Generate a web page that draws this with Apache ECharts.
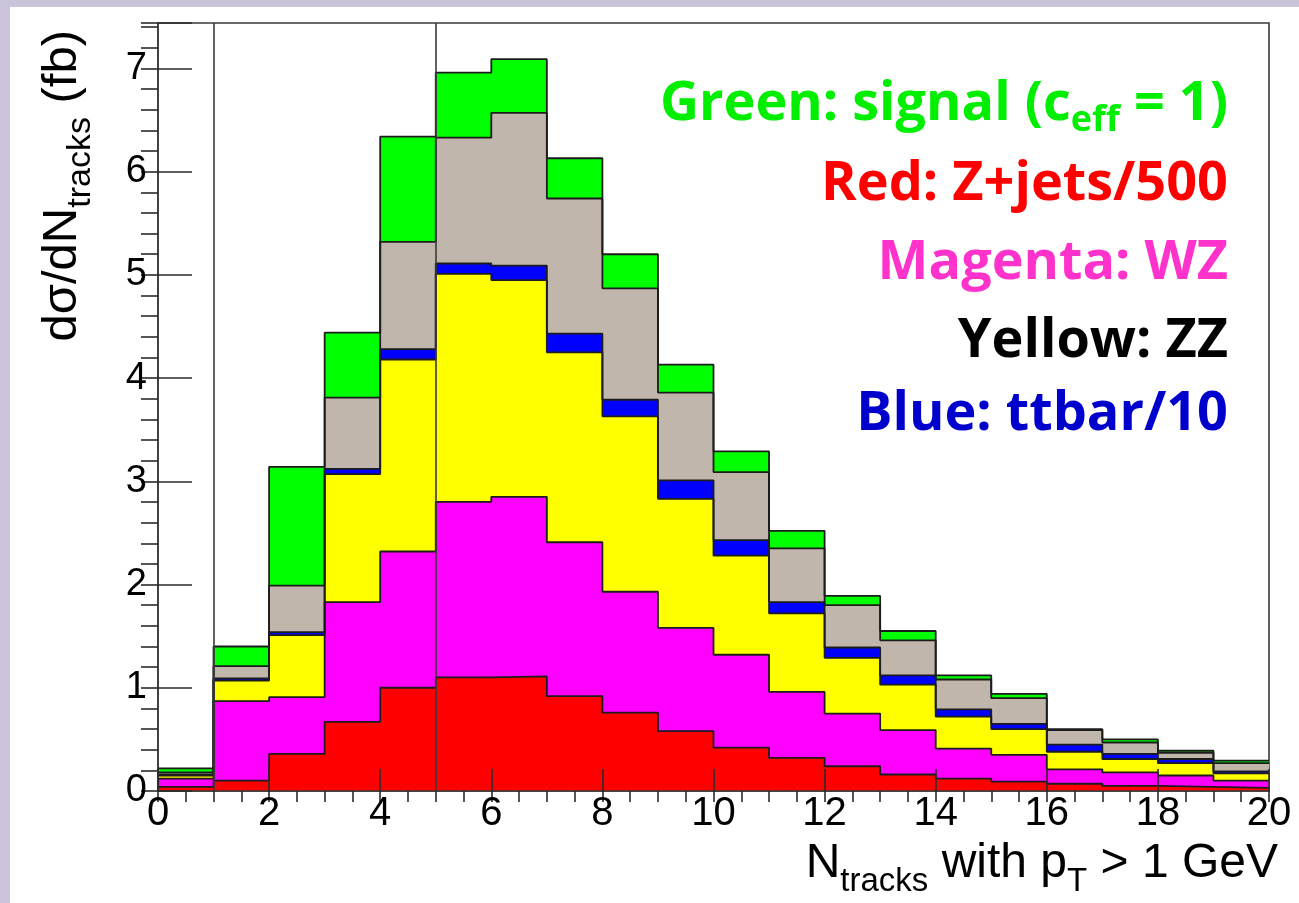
<!DOCTYPE html>
<html>
<head>
<meta charset="utf-8">
<script src="https://cdn.jsdelivr.net/npm/echarts@6/dist/echarts.min.js"></script>
<style>
  html, body { margin: 0; padding: 0; background: #cbc3da; overflow: hidden; }
  #sheet { position: absolute; left: 10px; top: 7px; width: 1289px; height: 896px; background: #ffffff; }
  #chart { position: absolute; left: 0; top: 0; width: 1299px; height: 903px; }
</style>
</head>
<body>
<div id="sheet"></div>
<div id="chart"></div>
<script>
// Lower edges of the unit-wide N_tracks bins
const binLow = [0, 1, 2, 3, 4, 5, 6, 7, 8, 9, 10, 11, 12, 13, 14, 15, 16, 17, 18, 19];

// Per-process contributions (fb), stacked bottom to top
const zjets  = [0.04, 0.10, 0.36, 0.67, 1.00, 1.10, 1.11, 0.92, 0.76, 0.58, 0.42, 0.32, 0.24, 0.16, 0.12, 0.09, 0.07, 0.05, 0.04, 0.03];
const wz     = [0.08, 0.77, 0.55, 1.16, 1.32, 1.70, 1.74, 1.49, 1.17, 1.00, 0.90, 0.64, 0.51, 0.43, 0.29, 0.26, 0.14, 0.13, 0.11, 0.07];
const zz     = [0.03, 0.20, 0.60, 1.24, 1.86, 2.21, 2.10, 1.84, 1.70, 1.25, 0.96, 0.76, 0.54, 0.44, 0.31, 0.25, 0.17, 0.13, 0.12, 0.07];
const ttbar  = [0.01, 0.02, 0.03, 0.05, 0.10, 0.10, 0.14, 0.18, 0.16, 0.18, 0.15, 0.11, 0.10, 0.09, 0.07, 0.05, 0.07, 0.05, 0.04, 0.02];
const other  = [0.02, 0.12, 0.45, 0.69, 1.04, 1.22, 1.48, 1.31, 1.08, 0.85, 0.66, 0.52, 0.41, 0.34, 0.29, 0.25, 0.14, 0.11, 0.06, 0.08];
const signal = [0.04, 0.19, 1.15, 0.63, 1.02, 0.63, 0.52, 0.39, 0.33, 0.27, 0.20, 0.17, 0.09, 0.09, 0.04, 0.04, 0.01, 0.03, 0.02, 0.025];

// Axis ticks
const xMajorStep = 2, xMinorStep = 0.5;
const yMajorStep = 1, yMinorStep = 0.2;
const yTop = 7.44;

// Vertical cut lines
const cutValues = [1, 5];

const layers = [
  { name: 'Z+jets/500', values: zjets,  color: '#ff0000' },
  { name: 'WZ',         values: wz,     color: '#ff00ff' },
  { name: 'ZZ',         values: zz,     color: '#ffff00' },
  { name: 'ttbar/10',   values: ttbar,  color: '#0000ff' },
  { name: 'other',      values: other,  color: '#c0b6ac' },
  { name: 'signal',     values: signal, color: '#00ff00' }
];

// Running sums: each layer is drawn as the filled outline of its cumulative total
let running = binLow.map(() => 0);
layers.forEach(l => {
  running = running.map((s, i) => s + l.values[i]);
  l.cum = running.slice();
});

const outline = '#1c1c1c';
const series = [];
for (let k = layers.length - 1; k >= 0; k--) {
  const l = layers[k];
  const pts = binLow.map((x, i) => [x, l.cum[i]]);
  pts.push([binLow[binLow.length - 1] + 1, l.cum[l.cum.length - 1]]);
  const s = {
    name: l.name,
    type: 'line',
    step: 'end',
    z: 1,
    data: pts,
    symbol: 'none',
    silent: true,
    animation: false,
    lineStyle: { color: outline, width: 1.8 },
    areaStyle: { color: l.color, opacity: 1 }
  };
  if (k === 0) {
    s.markLine = {
      silent: true,
      symbol: 'none',
      animation: false,
      label: { show: false },
      lineStyle: { color: '#3a3a3a', width: 1.6, type: 'solid' },
      data: cutValues.map(v => ({ xAxis: v }))
    };
  }
  series.push(s);
}

const axisFont = 'Liberation Sans';
const tickColor = '#2a2a2a';
const legendFont = 'Open Sans';

function legendLine(text, top, color, rich) {
  return {
    type: 'text', right: 71, top: top,
    style: {
      text: text, fontFamily: legendFont, fontWeight: 'bold', fontSize: 54, fill: color,
      rich: rich || {}
    }
  };
}

const chart = echarts.init(document.getElementById('chart'), null, { renderer: 'canvas' });
chart.setOption({
  animation: false,
  backgroundColor: 'transparent',
  grid: {
    left: 158, top: 23, width: 1111, height: 768,
    outerBoundsMode: 'none', containLabel: false,
    show: true, backgroundColor: '#ffffff', borderColor: '#3a3a3a', borderWidth: 1.6
  },
  xAxis: [
    {
      type: 'value', min: 0, max: 20, interval: xMajorStep, zlevel: 1, z: 10,
      axisLine: { show: true, lineStyle: { color: '#3a3a3a', width: 1.6 } },
      axisTick: { show: true, inside: true, length: 22, lineStyle: { color: tickColor, width: 1.6 } },
      axisLabel: { fontFamily: axisFont, fontSize: 40, color: '#000', margin: 3 },
      splitLine: { show: false }
    },
    {
      type: 'value', min: 0, max: 20, interval: xMinorStep, zlevel: 1, z: 10,
      axisLine: { show: false },
      axisTick: { show: true, inside: true, length: 11, lineStyle: { color: tickColor, width: 1.6 } },
      axisLabel: { show: false },
      splitLine: { show: false }
    }
  ],
  yAxis: [
    {
      type: 'value', min: 0, max: yTop, interval: yMajorStep, zlevel: 1, z: 10,
      axisLine: { show: true, lineStyle: { color: '#3a3a3a', width: 1.6 } },
      axisTick: { show: true, inside: true, length: 34, lineStyle: { color: tickColor, width: 1.6 } },
      axisLabel: {
        fontFamily: axisFont, fontSize: 38, color: '#000', margin: 11,
        formatter: v => (Math.abs(v - Math.round(v)) < 1e-6 ? String(Math.round(v)) : '')
      },
      splitLine: { show: false }
    },
    {
      type: 'value', min: 0, max: yTop, interval: yMinorStep, zlevel: 1, z: 10,
      axisLine: { show: false },
      axisTick: { show: true, inside: true, length: 17, lineStyle: { color: tickColor, width: 1.6 } },
      axisLabel: { show: false },
      splitLine: { show: false }
    }
  ],
  graphic: [
    // y-axis title, reading upwards, ending near the top of the frame
    {
      type: 'text', x: 90, y: 30, rotation: Math.PI / 2,
      style: {
        text: '{m|dσ/dN}{s|tracks}{m| (fb)}',
        textAlign: 'right', textVerticalAlign: 'bottom',
        rich: {
          m: { fontFamily: axisFont, fontSize: 49, lineHeight: 52, fill: '#000', verticalAlign: 'top' },
          s: { fontFamily: axisFont, fontSize: 34, lineHeight: 34, fill: '#000', verticalAlign: 'top', padding: [26, 0, 0, 0] }
        }
      }
    },
    // x-axis title, right-aligned under the axis end
    {
      type: 'text', x: 1278, y: 840,
      style: {
        text: '{m|N}{s|tracks}{m| with p}{s|T}{m| > 1 GeV}',
        textAlign: 'right', textVerticalAlign: 'top',
        rich: {
          m: { fontFamily: axisFont, fontSize: 48, lineHeight: 50, fill: '#000', verticalAlign: 'top' },
          s: { fontFamily: axisFont, fontSize: 33, lineHeight: 33, fill: '#000', verticalAlign: 'top', padding: [25, 0, 0, 0] }
        }
      }
    },
    legendLine('Green: signal (c{s|eff} = 1)', 78, '#00ee00', {
      s: { fontFamily: legendFont, fontWeight: 'bold', fontSize: 36, fill: '#00ee00', verticalAlign: 'top', padding: [32, 0, 0, 0] }
    }),
    legendLine('Red: Z+jets/500', 158, '#ff0000'),
    legendLine('Magenta: WZ', 237, '#ff33cc'),
    legendLine('Yellow: ZZ', 315, '#000000'),
    legendLine('Blue: ttbar/10', 388, '#0000cc')
  ],
  series: series
});
</script>
</body>
</html>
